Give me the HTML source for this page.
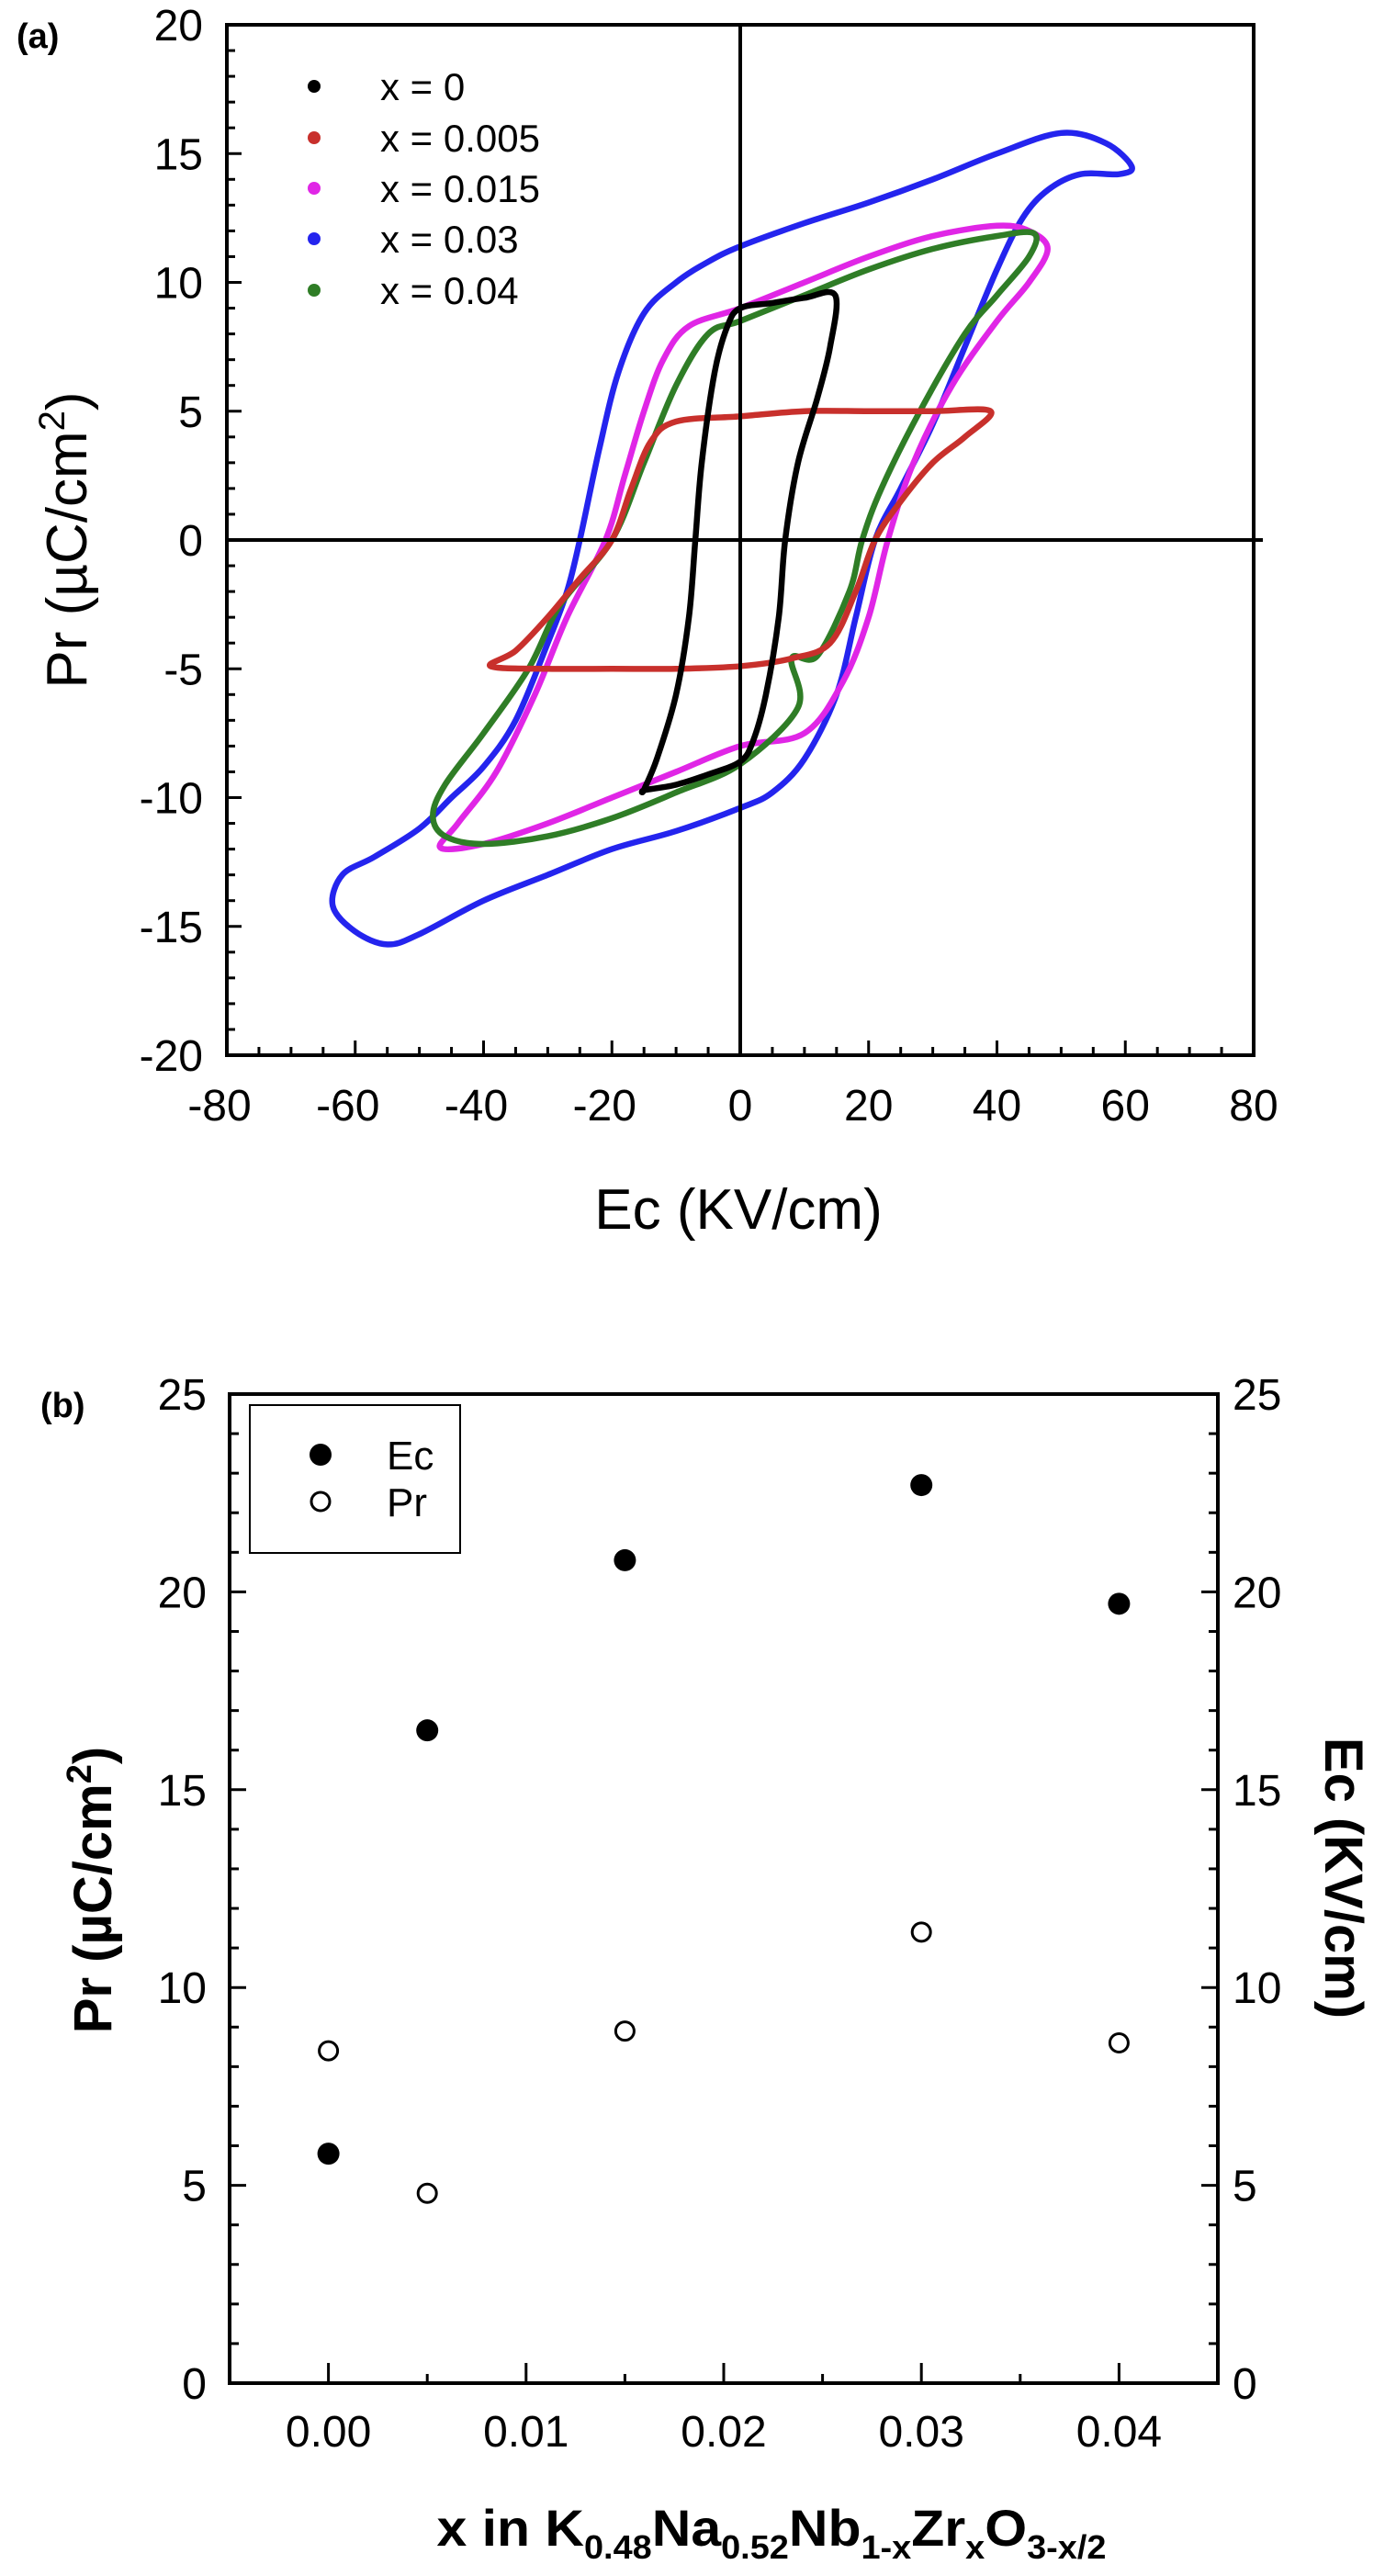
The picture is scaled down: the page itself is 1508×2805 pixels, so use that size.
<!DOCTYPE html>
<html><head><meta charset="utf-8"><style>
html,body{margin:0;padding:0;background:#fff;}
svg{display:block;font-family:"Liberation Sans",Arial,sans-serif;}
</style></head><body>
<svg id="fig" width="1508" height="2805" viewBox="0 0 1508 2805" xmlns="http://www.w3.org/2000/svg">
<g id="pa"></g>
<g id="pb"></g>
</svg>
<script>
// ---------- Panel (a) data: hysteresis loops (E kV/cm, P uC/cm2) ----------
const loopNames = ["x = 0","x = 0.005","x = 0.015","x = 0.03","x = 0.04"];
const loopColors = ["#000000","#c8302c","#e026e6","#2424ee","#2f7d26"];
const loopX0E = [-15,-13,-10,-8,-7,-6,-4,-2,0,5,10,14.8,14,12,9,7,6,4,2,0,-5,-10,-14.8];
const loopX0P = [-9.7,-8.5,-6,-3,0,3,6.5,8.3,9,9.2,9.4,9.5,7.5,5.5,3,0,-3,-6,-7.8,-8.6,-9.1,-9.5,-9.7];
const loopX005E = [-38.9,-35,-30,-25,-20,-17,-14,-10,0,10,20,30,39,35,30,25,21,18,14,8,0,-10,-20,-30];
const loopX005P = [-4.9,-4.3,-3,-1.5,0,2,3.8,4.6,4.8,5,5,5,5,4,3,1.5,0,-2,-4,-4.6,-4.9,-5,-5,-5];
const loopX015E = [-46.7,-44,-38,-32,-27,-21,-18,-15,-12,-8,0,10,20,30,40,45,47.9,45,40,33,27,23,20,16,10,0,-10,-20,-30,-40];
const loopX015P = [-11.95,-11,-9,-6,-3,0,2.5,5,7,8.3,9,10,11,11.8,12.2,12,11.3,10,8.5,6,3,0,-3,-5.5,-7.5,-8,-9,-10,-11,-11.8];
const loopX03E = [-63.5,-62,-57,-50,-45,-40,-35,-30,-27,-25,-22,-19,-15,-10,-5,0,10,20,30,40,50,57,61,59,53,48,44,40,35,30,25,21,18,15,10,5,0,-10,-20,-30,-40,-50,-55,-60];
const loopX03P = [-14.2,-13,-12.3,-11.2,-10,-8.8,-7,-4,-2,0,3.5,6.5,8.8,10,10.8,11.4,12.3,13.1,14,15,15.8,15.4,14.5,14.2,14.2,13.6,12.5,10.5,7.5,4.5,2,0,-3,-6,-8.5,-9.8,-10.4,-11.3,-12,-13,-14,-15.3,-15.7,-15.2];
const loopX04E = [-47.9,-46,-40,-33,-28,-20,-15,-10,-5,0,10,20,30,40,45.8,45,40,35,28,22,19,17,12,8,9,0,-10,-20,-30,-40,-46];
const loopX04P = [-10.7,-9.5,-7.5,-5,-2.5,0,3,6,8,8.5,9.5,10.5,11.3,11.8,11.9,11,9.5,8,5,2,0,-2,-4.5,-4.6,-6.5,-8.7,-9.8,-10.8,-11.5,-11.8,-11.5];
const aXTicks = [-80,-60,-40,-20,0,20,40,60,80];
const aYTicks = [-20,-15,-10,-5,0,5,10,15,20];

// ---------- Panel (b) data ----------
const bCats = [0,0.005,0.015,0.03,0.04];
const bEc = [5.8,16.5,20.8,22.7,19.7];
const bPr = [8.4,4.8,8.9,11.4,8.6];
const bXTicks = ["0.00","0.01","0.02","0.03","0.04"];
const bYTicks = [0,5,10,15,20,25];

const NS="http://www.w3.org/2000/svg";
function mk(parent,tag,attrs,txt){const e=document.createElementNS(NS,tag);for(const k in attrs)e.setAttribute(k,attrs[k]);if(txt!==undefined)e.textContent=txt;parent.appendChild(e);return e;}

// ===== Panel A =====
const pa=document.getElementById('pa');
const A={x0:247,x1:1365,y0:27,y1:1149};
const ax=v=>A.x0+(v+80)/160*(A.x1-A.x0);
const ay=v=>A.y1-(v+20)/40*(A.y1-A.y0);
for(let v=-80;v<=80;v+=5){
  if(v===-80||v===80)continue;
  const major=v%20===0;
  const t=mk(pa,'line',{x1:ax(v),x2:ax(v),y1:A.y1,y2:A.y1-(major?16:9),stroke:'#000','stroke-width':3});
  
  
}
for(let v=-20;v<=20;v+=1){
  if(v===-20||v===20)continue;
  const major=v%5===0;
  const t=mk(pa,'line',{x1:A.x0,x2:A.x0+(major?16:9),y1:ay(v),y2:ay(v),stroke:'#000','stroke-width':3});
  
  
}
aXTicks.forEach(v=>{
  const t=mk(pa,'text',{x:ax(v)-(v<0?8:0),y:1220,'font-size':48,'text-anchor':'middle',fill:'#000'},String(v));
  
  
});
aYTicks.forEach(v=>{
  const t=mk(pa,'text',{x:221,y:ay(v)+17,'font-size':48,'text-anchor':'end',fill:'#000'},String(v));
  
  
});
const fa=mk(pa,'rect',{x:A.x0,y:A.y0,width:A.x1-A.x0,height:A.y1-A.y0,fill:'none',stroke:'#000','stroke-width':4});


function smoothClosed(pts){
  const n=pts.length;let d=`M${pts[0][0]},${pts[0][1]}`;
  for(let i=0;i<n;i++){
    const p0=pts[(i-1+n)%n],p1=pts[i],p2=pts[(i+1)%n],p3=pts[(i+2)%n];
    const c1=[p1[0]+(p2[0]-p0[0])/6,p1[1]+(p2[1]-p0[1])/6];
    const c2=[p2[0]-(p3[0]-p1[0])/6,p2[1]-(p3[1]-p1[1])/6];
    d+=` C${c1[0]},${c1[1]} ${c2[0]},${c2[1]} ${p2[0]},${p2[1]}`;
  }
  return d+'Z';
}
const loopE=[loopX0E,loopX005E,loopX015E,loopX03E,loopX04E];
const loopP=[loopX0P,loopX005P,loopX015P,loopX03P,loopX04P];
const drawOrder=[3,2,4,1,0];
drawOrder.forEach(i=>{
  const pts=loopE[i].map((e,k)=>[ax(e),ay(loopP[i][k])]);
  const p=mk(pa,'path',{d:smoothClosed(pts),fill:'none',stroke:loopColors[i],'stroke-width':6.5,'stroke-linejoin':'round'});
  
  
});
const vx=mk(pa,'line',{x1:ax(0),x2:ax(0),y1:A.y0,y2:A.y1,stroke:'#000','stroke-width':4});


const hy=mk(pa,'line',{x1:A.x0,x2:1375,y1:ay(0),y2:ay(0),stroke:'#000','stroke-width':4});


const legA=mk(pa,'g',{});


const legY=[94,150,205,260,316];
loopNames.forEach((nm,i)=>{
  const c=mk(legA,'circle',{cx:342,cy:legY[i],r:7,fill:loopColors[i]});
  
  
  const t=mk(legA,'text',{x:414,y:legY[i]+15,'font-size':42,fill:'#000'},nm);
  
  
});
const la=mk(pa,'text',{x:18,y:52,'font-size':38,'font-weight':'bold',fill:'#000'},'(a)');


const xta=mk(pa,'text',{x:804,y:1338,'font-size':62,'text-anchor':'middle',fill:'#000'},'Ec (KV/cm)');


const yta=mk(pa,'text',{x:0,y:0,'font-size':62,'text-anchor':'middle',fill:'#000',transform:'translate(94,588) rotate(-90)'});


mk(yta,'tspan',{},'Pr (\u00B5C/cm');
mk(yta,'tspan',{'font-size':40,dy:-24},'2');
mk(yta,'tspan',{dy:24},')');

// ===== Panel B =====
const pb=document.getElementById('pb');
const B={x0:250,x1:1326,y0:1518,y1:2595};
const bx=v=>B.x0+(v+0.005)/0.05*(B.x1-B.x0);
const by=v=>B.y1-v/25*(B.y1-B.y0);
for(let k=0;k<=8;k++){
  const v=k*0.005;const major=k%2===0;
  const t=mk(pb,'line',{x1:bx(v),x2:bx(v),y1:B.y1,y2:B.y1-(major?22:10),stroke:'#000','stroke-width':3});
  
  
}
for(let v=1;v<25;v++){
  const major=v%5===0;const L=major?18:10;
  const t1=mk(pb,'line',{x1:B.x0,x2:B.x0+L,y1:by(v),y2:by(v),stroke:'#000','stroke-width':3});
  
  
  const t2=mk(pb,'line',{x1:B.x1,x2:B.x1-L,y1:by(v),y2:by(v),stroke:'#000','stroke-width':3});
  
  
}
bXTicks.forEach((s,i)=>{
  const t=mk(pb,'text',{x:bx(i*0.01),y:2664,'font-size':48,'text-anchor':'middle',fill:'#000'},s);
  
  
});
bYTicks.forEach(v=>{
  const t=mk(pb,'text',{x:225,y:by(v)+17,'font-size':48,'text-anchor':'end',fill:'#000'},String(v));
  
  
  const t2=mk(pb,'text',{x:1342,y:by(v)+17,'font-size':48,'text-anchor':'start',fill:'#000'},String(v));
  
  
});
const fb=mk(pb,'rect',{x:B.x0,y:B.y0,width:B.x1-B.x0,height:B.y1-B.y0,fill:'none',stroke:'#000','stroke-width':4});


bCats.forEach((c,i)=>{
  const p=mk(pb,'circle',{cx:bx(c),cy:by(bPr[i]),r:10,fill:'#fff',stroke:'#000','stroke-width':3});
  
  
  const e=mk(pb,'circle',{cx:bx(c),cy:by(bEc[i]),r:12,fill:'#000'});
  
  
});
const lb=mk(pb,'g',{});


mk(lb,'rect',{x:272,y:1530,width:229,height:161,fill:'#fff',stroke:'#000','stroke-width':2});
const lm1=mk(lb,'circle',{cx:349,cy:1584,r:12,fill:'#000'});


const lt1=mk(lb,'text',{x:421,y:1600,'font-size':44,fill:'#000'},'Ec');


const lm2=mk(lb,'circle',{cx:349,cy:1635,r:10,fill:'#fff',stroke:'#000','stroke-width':3});


const lt2=mk(lb,'text',{x:421,y:1651,'font-size':44,fill:'#000'},'Pr');


const lbl=mk(pb,'text',{x:44,y:1543,'font-size':38,'font-weight':'bold',fill:'#000'},'(b)');


const ytl=mk(pb,'text',{x:0,y:0,'font-size':58,'font-weight':'bold','text-anchor':'middle',fill:'#000',transform:'translate(121,2058) rotate(-90)'});


mk(ytl,'tspan',{},'Pr (\u00B5C/cm');
mk(ytl,'tspan',{'font-size':38,dy:-22},'2');
mk(ytl,'tspan',{dy:22},')');
const ytr=mk(pb,'text',{x:0,y:0,'font-size':58,'font-weight':'bold','text-anchor':'middle',fill:'#000',transform:'translate(1443,2045) rotate(90)'},'Ec (KV/cm)');


const xtb=mk(pb,'text',{x:840,y:2772,'font-size':56,'font-weight':'bold','text-anchor':'middle',fill:'#000',textLength:729,lengthAdjust:'spacingAndGlyphs'});


const parts=[['x in K',0],['0.48',1],['Na',0],['0.52',1],['Nb',0],['1-x',1],['Zr',0],['x',1],['O',0],['3-x/2',1]];
let sub=false;
parts.forEach(([s,isSub])=>{
  const a={};
  if(isSub){a['font-size']=36;if(!sub)a.dy=14;}else{a['font-size']=56;if(sub)a.dy=-14;}
  sub=!!isSub;
  mk(xtb,'tspan',a,s);
});
</script>
</body></html>
